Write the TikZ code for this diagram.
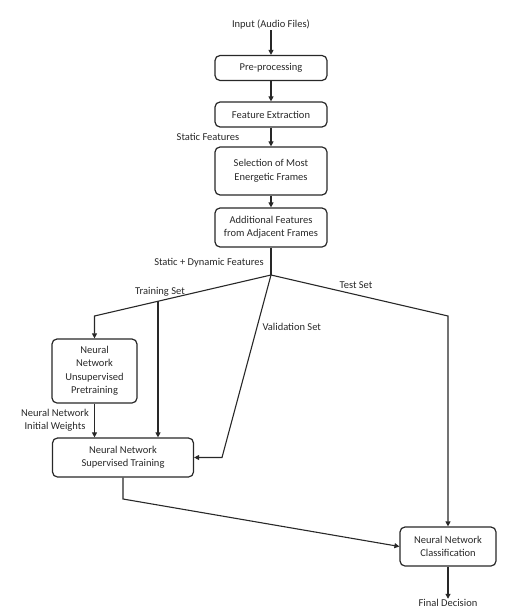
\documentclass[tikz,border=0pt]{standalone}
\usepackage{fontspec}
\setmainfont{Carlito}
\usepackage{tikz}
\usetikzlibrary{shapes,arrows}
\usetikzlibrary{arrows.meta}
\definecolor{inkgray}{RGB}{40,40,40}
\tikzset{
	block/.style    = {draw, rounded corners=5pt, rectangle, align=center,
		line width=1.2pt, inner sep=2pt},
	lbl/.style      = {inner sep=0pt, align=center},
}

\begin{document}
\begin{tikzpicture}[ x=1pt, y=-1pt,                 %<--one unit is one pixel
					line width=1.1pt,                 %<--setting line style
					every node/.style={font=\fontsize{10.5}{13.5}\selectfont, text=inkgray},
					draw=inkgray,
					>={Triangle[length=5pt,width=5pt]} ] %<--sets the arrowtype

	\useasboundingbox (0,0) rectangle (509,612);

	\draw%-----------------------------------------------------------------------------------------
	%Drawing Input/Output:
	node(input) at (271,25) [lbl] {Input (Audio Files)}
	node(final) at (448,603) [lbl] {Final Decision}
	%Drawing the Processing Blocks:
	node(pre) at (271,68) [block, minimum width=112pt, minimum height=25pt] {Pre-processing}
	node(feat) at (271,114.5) [block, minimum width=112pt, minimum height=25pt] {Feature Extraction}
	node(sel) at (271,171) [block, minimum width=112pt, minimum height=48pt] {Selection of Most\\Energetic Frames}
	node(adj) at (271,227.5) [block, minimum width=112pt, minimum height=39pt] {Additional Features\\from Adjacent Frames}
	%Drawing the Network Blocks:
	node(unsup) at (94.5,371) [block, minimum width=85pt, minimum height=64pt] {Neural\\Network\\Unsupervised\\Pretraining}
	node(sup) at (123,457.5) [block, minimum width=141pt, minimum height=39pt] {Neural Network\\Supervised Training}
	node(class) at (448,546.5) [block, minimum width=96pt, minimum height=39pt] {Neural Network\\Classification}
	%Drawing the Labels:
	node(static) at (208,137) [lbl] {Static Features}
	node(dyn) at (209,263) [lbl] {Static + Dynamic Features}
	node(train) at (160,292) [lbl] {Training Set}
	node(test) at (356,285) [lbl] {Test Set}
	node(valid) at (262,327) [lbl, anchor=west] {Validation Set}
	node(weights) at (55,420.5) [lbl] {Neural Network\\Initial Weights}
	%Drawing the Split Nodes:
	node[shape=coordinate][](split) at (271,275){}
	node[shape=coordinate][](trainCorner) at (94.5,316){}
	node[shape=coordinate][](trainBranch) at (158,301){}
	node[shape=coordinate][](testCorner) at (448,316){}
	node[shape=coordinate][](validCorner) at (222,457.5){}
	node[shape=coordinate][](supCorner) at (123,499){}

	;%---------------------------------------------------------------------------------------------

	%Joining the Blocks
	\draw[->] (input) -- (pre);
	\draw[->] (pre) -- (feat);
	\draw[->] (feat) -- (sel);
	\draw[->] (sel) -- (adj);
	\draw[-] (adj) -- (split);

	%Training Set
	\draw[->] (split) -- (trainCorner) -- (unsup);
	\draw[->] (trainBranch) -- (trainBranch |- sup.north);
	\draw[->] (unsup) -- (unsup |- sup.north);

	%Validation Set
	\draw[->] (split) -- (validCorner) -- (sup.east);

	%Test Set
	\draw[->] (split) -- (testCorner) -- (class);

	\draw[->] (sup) -- (supCorner) -- (class.west);
	\draw[->] (class) -- (final);

\end{tikzpicture}
\end{document}
